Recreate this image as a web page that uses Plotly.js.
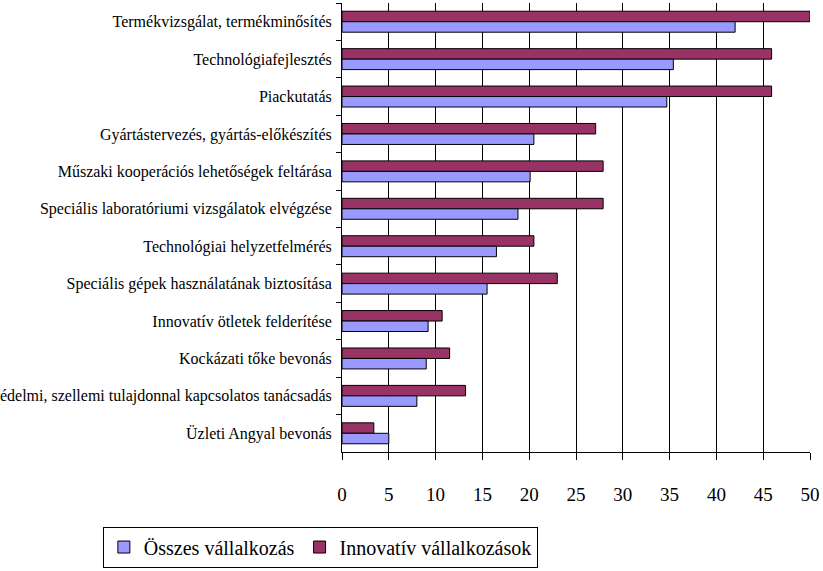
<!DOCTYPE html>
<html>
<head>
<meta charset="utf-8">
<script src="https://cdn.plot.ly/plotly-3.0.1.min.js"></script>
<style>html,body{margin:0;padding:0;background:#fff;}#chart{width:823px;height:571px;}</style>
</head>
<body>
<div id="chart"></div>
<script>
const categories = [
  "Termékvizsgálat, termékminősítés",
  "Technológiafejlesztés",
  "Piackutatás",
  "Gyártástervezés, gyártás-előkészítés",
  "Műszaki kooperációs lehetőségek feltárása",
  "Speciális laboratóriumi vizsgálatok elvégzése",
  "Technológiai helyzetfelmérés",
  "Speciális gépek használatának biztosítása",
  "Innovatív ötletek felderítése",
  "Kockázati tőke bevonás",
  "Iparjogvédelmi, szellemi tulajdonnal kapcsolatos tanácsadás",
  "Üzleti Angyal bevonás"
];
const osszes = [42, 35.4, 34.7, 20.5, 20.1, 18.8, 16.5, 15.5, 9.2, 9.0, 8.0, 5.0];
const innovativ = [50, 45.9, 45.9, 27.1, 27.9, 27.9, 20.5, 23.0, 10.7, 11.5, 13.2, 3.4];
const xTicks = [0, 5, 10, 15, 20, 25, 30, 35, 40, 45, 50];

const font = "Liberation Serif, Times New Roman, serif";
const data = [
  {type: "bar", orientation: "h", name: "Innovatív vállalkozások", y: categories, x: innovativ,
   marker: {color: "#993366", line: {color: "#000", width: 1}}, legendrank: 2},
  {type: "bar", orientation: "h", name: "Összes vállalkozás", y: categories, x: osszes,
   marker: {color: "#9999FF", line: {color: "#000", width: 1}}, legendrank: 1}
];
const layout = {
  width: 823, height: 571,
  margin: {l: 342, r: 13, t: 3, b: 109},
  paper_bgcolor: "#fff", plot_bgcolor: "#fff",
  font: {family: font, color: "#000"},
  barmode: "group", bargap: 0.44, bargroupgap: 0,
  showlegend: true,
  legend: {orientation: "h", x: -0.511, xanchor: "left", y: -0.166, yanchor: "top",
    bordercolor: "#000", borderwidth: 1, font: {family: font, size: 20, color: "#000"},
    itemwidth: 30, tracegroupgap: 0, bgcolor: "#fff"},
  xaxis: {range: [0, 50], tickvals: xTicks, ticktext: xTicks.map(String), showgrid: true,
    gridcolor: "#000", gridwidth: 1, zeroline: false, showline: true, linecolor: "#000", linewidth: 1,
    ticks: "outside", ticklen: 7, tickcolor: "#000", ticklabelstandoff: 18,
    tickfont: {family: font, size: 19, color: "#000"}, fixedrange: true},
  yaxis: {autorange: "reversed", type: "category", showline: true, linecolor: "#000", linewidth: 1,
    ticks: "outside", tickson: "boundaries", ticklen: 5, tickcolor: "#000",
    showgrid: false, tickfont: {family: font, size: 16, color: "#000"}, ticklabelstandoff: 6,
    automargin: false, fixedrange: true}
};
Plotly.newPlot("chart", data, layout, {displayModeBar: false, staticPlot: true});
</script>
</body>
</html>
